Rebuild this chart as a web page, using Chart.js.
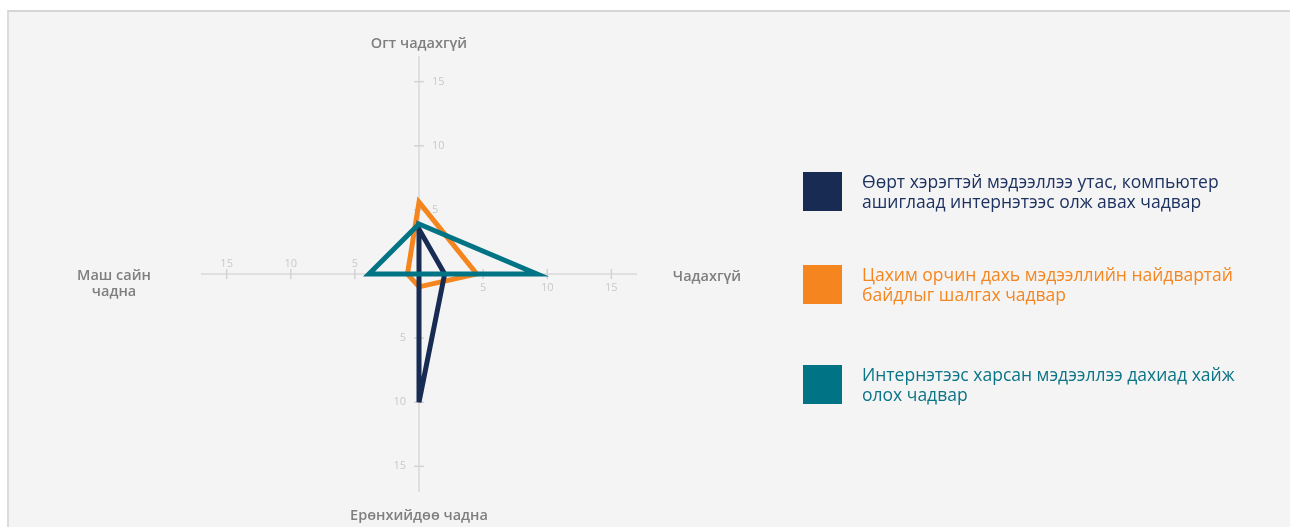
<!DOCTYPE html>
<html>
<head>
<meta charset="utf-8">
<script src="https://cdn.jsdelivr.net/npm/chart.js@4"></script>
<style>
  html, body { margin: 0; padding: 0; background: #fff; }
  body { width: 1290px; height: 527px; overflow: hidden; position: relative; font-family: "Open Sans", sans-serif; }
  #panel { position: absolute; left: 7px; top: 10px; right: -10px; bottom: -10px; background: #f4f4f4;
           border-top: 2px solid #d6d6d6; border-left: 2px solid #dcdcdc; }
  #wrap { position: absolute; left: 0; top: 0; width: 1290px; height: 527px; }
  #legend { position: absolute; left: 0; top: 0; }
  .item { position: absolute; left: 803px; display: flex; align-items: center; width: 470px; }
  .box { width: 39px; height: 39px; flex: none; }
  .txt { margin-left: 20px; font-size: 17.5px; line-height: 20px; max-width: 390px; }
</style>
</head>
<body>
<div id="panel"></div>
<div id="wrap"><canvas id="radar" width="1290" height="527"></canvas></div>
<div id="legend"></div>
<script>
// radar axes, clockwise from the top
const categories = ['Огт чадахгүй', 'Чадахгүй', 'Ерөнхийдөө чадна', 'Маш сайн чадна'];
const tickValues = [5, 10, 15];

const seriesNames = [
    'Өөрт хэрэгтэй мэдээллээ утас, компьютер ашиглаад интернэтээс олж авах чадвар',
    'Цахим орчин дахь мэдээллийн найдвартай байдлыг шалгах чадвар',
    'Интернэтээс харсан мэдээллээ дахиад хайж олох чадвар'
];
const findInfo = [3.5, 2, 10, 0];
const checkInfo = [5.6, 4.5, 1, 0.9];
const searchAgain = [3.9, 9.2, 0, 3.9];

const colors = ['#172b53', '#f5861f', '#007384'];
const textColors = ['#1d3260', '#f5861f', '#0b7486'];

// axis tick marks + labels drawn on every spoke, plus the category names
const axisDecor = {
    id: 'axisDecor',
    beforeDatasetsDraw(chart) {
        const s = chart.scales.r;
        const ctx = chart.ctx;
        ctx.save();
        ctx.strokeStyle = '#d3d3d3';
        ctx.lineWidth = 1.5;
        ctx.fillStyle = '#c9c9c9';
        ctx.font = '11px "Open Sans"';
        categories.forEach((c, i) => {
            const a = s.getIndexAngle(i) - Math.PI / 2;
            const px = -Math.sin(a), py = Math.cos(a);
            tickValues.forEach(v => {
                const p = s.getPointPositionForValue(i, v);
                ctx.beginPath();
                ctx.moveTo(p.x - px * 5, p.y - py * 5);
                ctx.lineTo(p.x + px * 5, p.y + py * 5);
                ctx.stroke();
                let tx = p.x, ty = p.y;
                if (px > 0.5) { ctx.textAlign = 'left'; ctx.textBaseline = 'middle'; tx += 13; }
                else if (px < -0.5) { ctx.textAlign = 'right'; ctx.textBaseline = 'middle'; tx -= 13; }
                else if (py > 0.5) { ctx.textAlign = 'center'; ctx.textBaseline = 'top'; ty += 8; }
                else { ctx.textAlign = 'center'; ctx.textBaseline = 'bottom'; ty -= 5; }
                ctx.fillText(String(v), tx, ty);
            });
        });
        ctx.restore();
    },
    afterDraw(chart) {
        const s = chart.scales.r;
        const ctx = chart.ctx;
        const dist = [230 - s.drawingArea, 288 - s.drawingArea, 242 - s.drawingArea, 305 - s.drawingArea];
        const shiftY = [0, 3, 0, 10];
        const lines = [['Огт чадахгүй'], ['Чадахгүй'], ['Ерөнхийдөө чадна'], ['Маш сайн', 'чадна']];
        ctx.save();
        ctx.fillStyle = '#7f7f7f';
        ctx.font = '600 14.5px "Open Sans"';
        ctx.textAlign = 'center';
        ctx.textBaseline = 'middle';
        categories.forEach((c, i) => {
            const p = s.getPointPosition(i, s.drawingArea + dist[i]);
            const ls = c === 'Маш сайн чадна' ? lines[3] : [c];
            ls.forEach((t, k) => {
                ctx.fillText(t, p.x, p.y + shiftY[i] + (k - (ls.length - 1) / 2) * 16);
            });
        });
        ctx.restore();
    }
};

const datasets = [findInfo, checkInfo, searchAgain].map((vals, i) => ({
    label: seriesNames[i],
    data: vals,
    borderColor: colors[i],
    backgroundColor: colors[i],
    borderWidth: 5,
    borderJoinStyle: 'miter',
    fill: false,
    pointRadius: 0,
    pointHoverRadius: 0,
    order: [1, 2, 0][i]
}));

new Chart(document.getElementById('radar').getContext('2d'), {
    type: 'radar',
    data: { labels: categories, datasets: datasets },
    options: {
        responsive: false,
        animation: false,
        layout: { padding: { left: 201, top: 56, right: 653, bottom: 35 } },
        plugins: { legend: { display: false }, tooltip: { enabled: false } },
        elements: { line: { tension: 0 } },
        scales: {
            r: {
                min: 0,
                max: 17,
                ticks: { display: false, stepSize: 5 },
                grid: { display: false },
                angleLines: { display: true, color: '#d9d9d9', lineWidth: 1.5 },
                pointLabels: { display: false }
            }
        }
    },
    plugins: [axisDecor]
});

// html legend
const tops = [171, 264, 364];
const legend = document.getElementById('legend');
seriesNames.forEach((name, i) => {
    const item = document.createElement('div');
    item.className = 'item';
    item.style.top = tops[i] + 'px';
    const box = document.createElement('div');
    box.className = 'box';
    box.style.background = colors[i];
    const txt = document.createElement('div');
    txt.className = 'txt';
    txt.style.color = textColors[i];
    txt.textContent = name;
    item.appendChild(box);
    item.appendChild(txt);
    legend.appendChild(item);
});
</script>
</body>
</html>
